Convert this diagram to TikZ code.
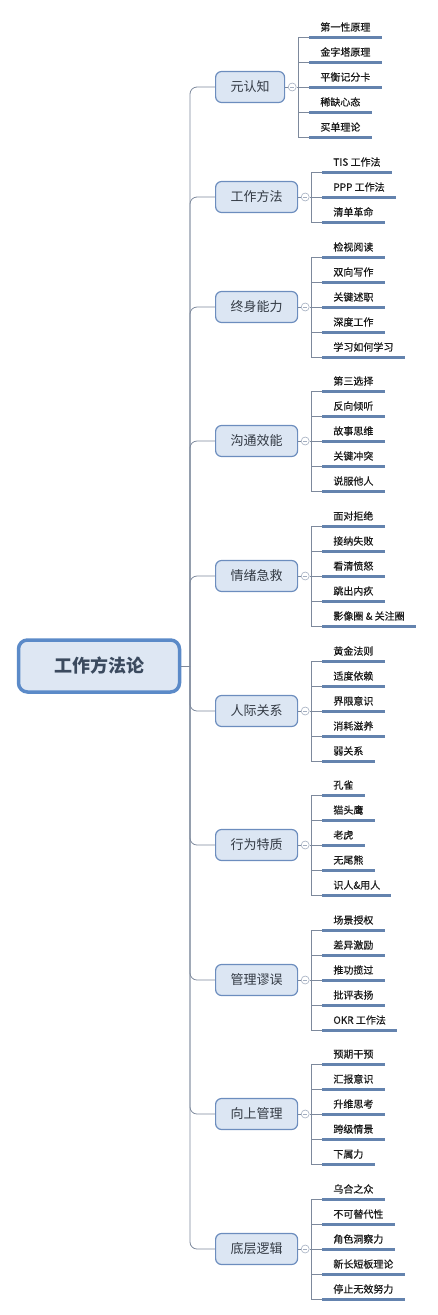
\documentclass[tikz,border=0pt]{standalone}
\usepackage{fontspec}
\setmainfont{Noto Sans CJK SC}
\newfontfamily\leaffont[RawFeature={embolden=0.5}]{Noto Sans CJK SC}
\usetikzlibrary{calc}
\definecolor{linec}{HTML}{7D899C}
\definecolor{togc}{HTML}{A3AEC0}
\definecolor{underc}{HTML}{6483AE}
\definecolor{brfill}{HTML}{DCE6F3}
\definecolor{brdraw}{HTML}{6C8DBE}
\definecolor{rootdraw}{HTML}{5B8AC8}
\definecolor{rootfill}{HTML}{DEE7F3}
\definecolor{rootText}{HTML}{3B4A5E}
\definecolor{brText}{HTML}{333A44}
\definecolor{leafText}{HTML}{1A1A1A}
\tikzset{
  conn/.style={draw=linec, line width=0.8pt},
  root/.style={draw=rootdraw, fill=rootfill, line width=3.5pt, rounded corners=9pt,
    minimum width=161pt, minimum height=52pt, text=rootText,
    font=\fontsize{18}{22}\selectfont\bfseries},
  branch/.style={draw=brdraw, fill=brfill, line width=1.2pt, rounded corners=6pt,
    minimum height=31pt, inner xsep=15pt, text=brText,
    font=\fontsize{13}{16}\selectfont, anchor=west},
  toggle/.style={circle, draw=togc, fill=white, line width=0.6pt, minimum size=8pt, inner sep=0pt,
    path picture={\draw[togc, line width=0.6pt]
      ($(path picture bounding box.center)-(2,0)$) -- ($(path picture bounding box.center)+(2,0)$);}},
  leaf/.style={anchor=south west, inner xsep=11pt, inner ysep=4.5pt, text=leafText,
    text height=8.5pt, text depth=1.5pt, font=\leaffont\fontsize{10}{12}\selectfont,
    append after command={(\tikzlastnode.south west) edge[underline] (\tikzlastnode.south east)}},
  underline/.style={draw=underc, line width=3pt},
}
\begin{document}
\begin{tikzpicture}[x=1pt,y=-1pt]
\useasboundingbox (0,0) rectangle (437,1315);
\node[root] (root) at (99,666) {工作方法论};
\coordinate (trunk) at (190,666);
\draw[conn] (root.east) -- (trunk);
\foreach \i/\y/\n/\name/\leaves in {
  1/87/5/元认知/{第一性原理,金字塔原理,平衡记分卡,稀缺心态,买单理论},
  2/197/3/工作方法/{TIS 工作法,PPP 工作法,清单革命},
  3/307/5/终身能力/{检视阅读,双向写作,关键述职,深度工作,学习如何学习},
  4/441/5/沟通效能/{第三选择,反向倾听,故事思维,关键冲突,说服他人},
  5/576/5/情绪急救/{面对拒绝,接纳失败,看清愤怒,跳出内疚,影像圈 \& 关注圈},
  6/711/5/人际关系/{黄金法则,适度依赖,界限意识,消耗滋养,弱关系},
  7/845/5/行为特质/{孔雀,猫头鹰,老虎,无尾熊,识人\&用人},
  8/980/5/管理谬误/{场景授权,差异激励,推功揽过,批评表扬,OKR 工作法},
  9/1114/5/向上管理/{预期干预,汇报意识,升维思考,跨级情景,下属力},
  10/1249/5/底层逻辑/{乌合之众,不可替代性,角色洞察力,新长短板理论,停止无效努力}}{
  \node[branch] (b\i) at (215,\y) {\name};
  \draw[conn, rounded corners=7pt] (trunk) |- (b\i.west);
  \node[toggle] (t\i) at ($(b\i.east)+(7,0)$) {};
  \coordinate (v\i) at ($(b\i.east)+(13,0)$);
  \draw[conn] (b\i.east) -- (t\i.west);
  \draw[conn] (t\i.east) -- (v\i);
  \foreach \l [count=\k] in \leaves {
    \node[leaf] (l\i-\k) at ($(v\i)+(11,{(\k-(\n+1)/2)*25})$) {\l};
    \draw[conn] (v\i) |- (l\i-\k.south west);
  }
}
\end{tikzpicture}
\end{document}
